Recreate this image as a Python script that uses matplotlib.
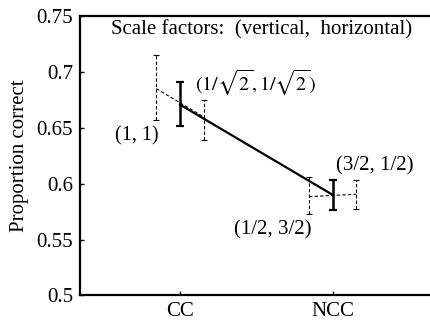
import matplotlib
matplotlib.use("Agg")
import matplotlib.pyplot as plt
import numpy as np

plt.rcParams["font.family"] = ["Liberation Serif", "DejaVu Serif"]
plt.rcParams["mathtext.fontset"] = "stix"

conditions = ["CC", "NCC"]

# solid: unscaled average
mean_all = [0.6705, 0.5899]
lo_all = [0.651, 0.5765]
hi_all = [0.6908, 0.6033]

# dashed: (1, 1) and (1/sqrt2, 1/sqrt2) at CC
cc_labels = ["(1, 1)", "$(1/\\sqrt{2}, 1/\\sqrt{2})$"]
cc_mean = [0.6848, 0.6596]
cc_lo = [0.657, 0.6393]
cc_hi = [0.7146, 0.675]

# dashed: (1/2, 3/2) and (3/2, 1/2) at NCC
ncc_labels = ["(1/2, 3/2)", "(3/2, 1/2)"]
ncc_mean = [0.5883, 0.5905]
ncc_lo = [0.5728, 0.5773]
ncc_hi = [0.6055, 0.6036]

x = np.arange(1, len(conditions) + 1)
off = 0.155

fig = plt.figure(figsize=(4.3, 3.2), dpi=100)
ax = fig.add_axes([0.186, 0.0766, 0.814, 0.8744])

# dashed scaled conditions
cx = [x[0] - off, x[0] + off]
ax.plot(cx, cc_mean, "k--", lw=0.8, dashes=(3, 2))
ax.errorbar(cx, cc_mean,
            yerr=[np.subtract(cc_mean, cc_lo), np.subtract(cc_hi, cc_mean)],
            fmt="none", ecolor="k", elinewidth=0.8, capsize=2.2, capthick=0.8)
nx = [x[1] - off, x[1] + off]
ax.plot(nx, ncc_mean, "k--", lw=0.8, dashes=(3, 2))
ax.errorbar(nx, ncc_mean,
            yerr=[np.subtract(ncc_mean, ncc_lo), np.subtract(ncc_hi, ncc_mean)],
            fmt="none", ecolor="k", elinewidth=0.8, capsize=2.2, capthick=0.8)
for c in ax.collections:
    c.set_linestyle((0, (3, 2)))

# solid unscaled
ax.plot(x, mean_all, "k-", lw=1.6)
ax.errorbar(x, mean_all,
            yerr=[np.subtract(mean_all, lo_all), np.subtract(hi_all, mean_all)],
            fmt="none", ecolor="k", elinewidth=1.8, capsize=3.2, capthick=1.6)

# labels
ax.text(cx[0] - 0.13, cc_lo[0] - 0.006, cc_labels[0], ha="center", va="top", fontsize=14.5)
ax.text(cx[1] - 0.06, cc_hi[1] + 0.002, cc_labels[1], ha="left", va="bottom", fontsize=14.5)
ax.text(nx[0] - 0.24, ncc_lo[0] - 0.006, ncc_labels[0], ha="center", va="top", fontsize=15)
ax.text(nx[1] + 0.12, ncc_hi[1] + 0.0035, ncc_labels[1], ha="center", va="bottom", fontsize=15)
ax.text(1.537, 0.7465, "Scale factors:  (vertical,  horizontal)", ha="center", va="top", fontsize=15)

ax.set_xlim(0.345, 2.637)
ax.set_ylim(0.5, 0.75)
ax.set_xticks(x)
ax.set_xticklabels(conditions)
ax.set_yticks([0.5, 0.55, 0.6, 0.65, 0.7, 0.75])
ax.set_yticklabels(["0.5", "0.55", "0.6", "0.65", "0.7", "0.75"])
ax.tick_params(direction="in", length=3, width=1, labelsize=15, pad=5)
ax.set_ylabel("Proportion correct", fontsize=15, labelpad=5)
ax.spines["right"].set_visible(False)
for s in ["left", "bottom", "top"]:
    ax.spines[s].set_linewidth(1.6)

fig.savefig("out.png", dpi=100)
